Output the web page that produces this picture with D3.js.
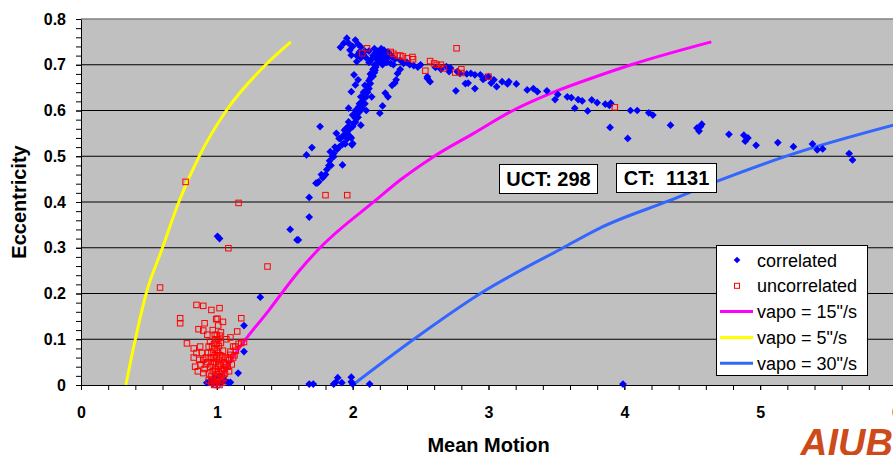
<!DOCTYPE html>
<html>
<head>
<meta charset="utf-8">
<script src="https://cdn.jsdelivr.net/npm/d3@7"></script>
<style>
  body { margin: 0; background: #fff; }
  svg { display: block; font-family: "Liberation Sans", Arial, sans-serif; }
</style>
</head>
<body>
<svg id="chart" width="893" height="455"></svg>
<script>
// mean motion (rev/day) vs eccentricity
const correlated = [
  // apex of the arc
  [1.957,0.758],[1.935,0.747],[1.91,0.738],[2.02,0.754],[1.98,0.732],[1.99,0.721],[2.03,0.707],[2.06,0.739],
  [2.04,0.745],[2.03,0.72],[2.05,0.728],[2.08,0.722],[2.10,0.715],[2.12,0.705],[2.14,0.712],[2.15,0.72],
  [2.155,0.718],[2.17,0.726],[2.18,0.703],[2.19,0.715],[2.20,0.725],[2.21,0.735],[2.22,0.72],[2.23,0.732],
  [2.24,0.71],[2.25,0.718],[2.26,0.728],[2.27,0.724],[2.28,0.703],[2.20,0.71],[2.165,0.688],[2.14,0.674],
  [2.13,0.659],[2.11,0.652],[2.105,0.645],[2.14,0.63],[2.08,0.627],[2.07,0.619],[2.045,0.608],[2.03,0.59],
  [2.02,0.583],[2.06,0.568],[2.01,0.572],[1.97,0.566],[2.01,0.678],[2.04,0.667],[2.02,0.656],[1.99,0.641],
  [2.24,0.638],[2.10,0.60],[2.20,0.594],[1.97,0.605],[2.33,0.681],[2.35,0.69],[2.32,0.667],[2.375,0.703],
  [2.40,0.705],[2.30,0.70],[2.31,0.712],[2.35,0.71],[2.42,0.70],[2.45,0.698],[2.48,0.695],[2.50,0.70],
  [2.55,0.674],[2.57,0.663],[2.61,0.694],[2.65,0.69],[2.69,0.696],[2.72,0.693],[2.77,0.685],[2.76,0.643],
  [2.18,0.712],[2.19,0.72],[2.21,0.712],[2.23,0.72],[2.25,0.705],[2.26,0.715],[2.29,0.718],[2.22,0.70],
  [2.18,0.73],[2.16,0.735],[2.12,0.73],[2.09,0.73],[2.06,0.715],[1.97,0.747],[2.0,0.74],
  [2.22,0.61],[2.26,0.63],[2.29,0.655],[2.31,0.66],
  // rising branch
  [1.76,0.565],[1.70,0.519],[1.66,0.503],[1.835,0.51],[1.86,0.499],[1.91,0.539],[1.94,0.557],[1.98,0.543],
  [1.92,0.525],[1.945,0.527],[1.995,0.525],[1.81,0.471],[1.825,0.48],[1.83,0.49],[1.86,0.506],[1.885,0.515],
  [1.935,0.528],[1.90,0.539],[1.96,0.538],[2.0,0.528],[1.99,0.54],[1.925,0.481],[1.75,0.444],[1.73,0.441],
  [1.74,0.442],[1.68,0.41],[1.68,0.367],[1.54,0.34],[1.60,0.317],[1.59,0.317],[1.32,0.192],[1.20,0.13],
  [1.20,0.073],[1.157,0.026],[1.88,0.55],[1.95,0.56],[1.97,0.575],[2.0,0.59],[2.02,0.60],[2.05,0.615],
  [2.06,0.63],[2.08,0.64],[2.09,0.655],[2.12,0.665],[2.13,0.68],[2.15,0.69],[2.16,0.70],
  [1.93,0.545],[1.96,0.55],[1.98,0.56],[2.0,0.565],[2.02,0.575],[2.04,0.585],[2.05,0.597],[2.07,0.605],
  [2.09,0.615],[2.10,0.63],[2.11,0.64],[2.12,0.648],[2.13,0.67],[2.15,0.675],[2.16,0.683],[2.17,0.695],
  [1.90,0.52],[1.87,0.52],[1.85,0.50],[1.84,0.48],[1.80,0.46],[1.78,0.453],[1.77,0.46],
  // low mean motion
  [0.926,0.005],[0.95,0.008],[0.97,0.003],[1.0,0.002],[1.03,0.004],[1.06,0.01],[1.085,0.005],[1.10,0.006],
  [1.02,0.02],[0.98,0.015],[1.005,0.325],[1.02,0.32],
  // near circular
  [1.68,0.002],[1.71,0.002],[1.86,0.002],[1.875,0.006],[1.89,0.016],[1.92,0.005],[1.99,0.017],[1.99,0.007],
  [2.0,0.002],[2.125,0.002],[3.99,0.002],
  // descending tail
  [2.71,0.685],[2.79,0.681],[2.83,0.659],[2.85,0.66],[2.87,0.681],[2.90,0.678],[2.94,0.678],[2.96,0.668],
  [3.00,0.674],[3.04,0.667],[3.06,0.652],[3.10,0.663],[3.15,0.663],[3.14,0.658],[3.205,0.658],[2.90,0.648],
  [3.285,0.645],[3.33,0.648],[3.36,0.641],[3.43,0.643],[3.51,0.635],[3.49,0.624],[3.58,0.63],[3.61,0.628],
  [3.66,0.624],[3.69,0.621],[3.76,0.623],[3.80,0.617],[3.86,0.614],[3.89,0.611],[3.635,0.605],[3.73,0.599],
  [3.895,0.563],[4.025,0.539],[4.045,0.60],[4.095,0.60],[4.18,0.595],[4.21,0.59],[4.34,0.568],[4.535,0.562],
  [4.57,0.57],[4.55,0.555],[4.56,0.565],[4.77,0.548],[4.88,0.546],[4.91,0.54],[4.89,0.533],[4.97,0.524],
  [5.13,0.53],[5.245,0.521],[5.385,0.527],[5.42,0.514],[5.46,0.516],[5.655,0.506],[5.68,0.492],[3.90,0.616],
  [2.55,0.67],[2.84,0.68],[2.98,0.672],[3.02,0.66]
];

const uncorrelated = [
  [2.07,0.725],[2.105,0.736],[2.28,0.728],[2.30,0.724],[2.33,0.72],[2.35,0.72],[2.37,0.718],[2.40,0.714],
  [2.44,0.717],[2.445,0.712],[2.57,0.708],[2.60,0.703],[2.62,0.70],[2.65,0.70],[2.67,0.692],[2.535,0.687],
  [2.755,0.683],[2.80,0.69],[2.80,0.682],[2.765,0.736],[3.00,0.674],[3.93,0.607],
  [1.80,0.415],[1.96,0.415],[1.16,0.398],[1.373,0.259],[1.085,0.299],[0.77,0.444],[0.582,0.213],
  [0.73,0.146],[0.73,0.135],[0.85,0.175],[0.90,0.173],[0.96,0.164],[1.02,0.168],[0.865,0.122],[0.90,0.119],
  [0.91,0.135],[0.995,0.144],[1.01,0.13],[1.045,0.138],[1.18,0.146],[1.15,0.117],[1.10,0.104],[0.78,0.091],
  [0.877,0.084],[0.83,0.08],[0.85,0.07],[0.83,0.06],[0.84,0.04],[0.87,0.055],[0.94,0.084],[0.99,0.10],
  [1.0,0.109],[1.02,0.108],[0.98,0.09],[0.96,0.07],[1.12,0.084],[1.18,0.092],[1.20,0.094],[1.10,0.066],
  [1.08,0.058],[1.06,0.044],[1.04,0.06],[0.90,0.026],[0.91,0.035],[0.93,0.05],[0.95,0.04],[0.97,0.03],
  [0.98,0.05],[0.99,0.02],[1.0,0.06],[1.01,0.04],[1.0,0.075],[1.02,0.025],[1.03,0.01],[1.0,0.005],
  [0.97,0.01],[0.99,0.035],[1.01,0.015],[0.96,0.02],[1.04,0.03],[1.05,0.05],[1.07,0.045],[1.09,0.055],
  [1.12,0.06],[0.92,0.06],[0.89,0.07],[1.0,0.0],[1.02,0.0],[0.98,0.0],[0.985,0.065],[1.015,0.085],
  [1.03,0.092],[0.95,0.095],[1.07,0.10],[1.10,0.073],[1.135,0.084],[1.14,0.075],[0.90,0.055],
  [0.96,0.005],[0.97,0.045],[0.975,0.06],[0.985,0.08],[0.99,0.005],[0.995,0.05],[1.0,0.03],[1.0,0.09],
  [1.005,0.015],[1.01,0.07],[1.015,0.055],[1.02,0.045],[1.025,0.065],[1.03,0.035],[1.035,0.02],[1.04,0.005],
  [1.045,0.075],[0.955,0.06],[0.965,0.085],[0.945,0.025],[0.94,0.01],[1.05,0.015],[1.055,0.035],[1.06,0.025],
  [1.065,0.06],[1.08,0.04],[1.09,0.03],[1.11,0.045],[1.13,0.065],[1.16,0.09],[0.935,0.07],[0.88,0.045],
  [0.86,0.03],[0.92,0.045],[0.985,0.11],[1.01,0.10],[0.97,0.12],[1.03,0.115],[1.005,0.145],[0.93,0.11]
];

// apogee velocity limits
const vapo15 = [[1.0,0],[1.12,0.061],[1.39,0.166],[1.61,0.251],[1.76,0.30],[2.17,0.404],[2.35,0.448],
  [2.59,0.498],[2.89,0.55],[3.18,0.60],[3.48,0.64],[3.82,0.677],[4.05,0.70],[4.64,0.75]];
const vapo5  = [[0.33,0],[0.40,0.1],[0.48,0.2],[0.60,0.3],[0.72,0.4],[0.87,0.5],[1.07,0.6],[1.36,0.7],[1.545,0.75]];
const vapo30 = [[2.0,0],[2.45,0.1],[2.94,0.2],[3.55,0.3],[3.82,0.343],[4.34,0.404],[4.69,0.446],
  [5.22,0.503],[5.98,0.568]];

const xTicks = [0, 1, 2, 3, 4, 5, 6];
const yTicks = [0, 0.1, 0.2, 0.3, 0.4, 0.5, 0.6, 0.7, 0.8];
const yTickLabels = ["0", "0.1", "0.2", "0.3", "0.4", "0.5", "0.6", "0.7", "0.8"];

const svg = d3.select('#chart');
const plotL = 81, plotR = 896, plotT = 19, plotB = 385;

const x = d3.scaleLinear().domain([0, 6]).range([plotL, plotR]);
const y = d3.scaleLinear().domain([0, 0.8]).range([plotB, plotT]);

// plot area
svg.append('rect')
  .attr('x', plotL).attr('y', plotT)
  .attr('width', plotR - plotL).attr('height', plotB - plotT)
  .attr('fill', '#c0c0c0');

// gridlines
svg.append('g').selectAll('line')
  .data(yTicks.filter(d => d > 0 && d < 0.8))
  .enter().append('line')
  .attr('x1', plotL).attr('x2', plotR)
  .attr('y1', d => y(d)).attr('y2', d => y(d))
  .attr('stroke', '#000').attr('stroke-width', 1);

svg.append('line')
  .attr('x1', plotL).attr('x2', plotR)
  .attr('y1', plotT).attr('y2', plotT)
  .attr('stroke', '#808080').attr('stroke-width', 1.5);

// axes: minor ticks first, then major with labels
svg.append('g')
  .attr('transform', `translate(${plotL},0)`)
  .call(d3.axisLeft(y).tickValues(d3.range(0, 41).map(i => i * 0.02)).tickSize(5).tickSizeOuter(0).tickFormat(''))
  .call(g => g.select('.domain').remove());

svg.append('g')
  .attr('transform', `translate(0,${plotB})`)
  .call(d3.axisBottom(x).tickValues(d3.range(0, 31).map(i => i * 0.2)).tickSize(5).tickSizeOuter(0).tickFormat(''))
  .call(g => g.select('.domain').remove());

const yAxis = svg.append('g')
  .attr('transform', `translate(${plotL},0)`)
  .call(d3.axisLeft(y).tickValues(yTicks).tickSize(5).tickSizeOuter(0).tickPadding(10)
    .tickFormat((d, i) => yTickLabels[i]));

const xAxis = svg.append('g')
  .attr('transform', `translate(0,${plotB})`)
  .call(d3.axisBottom(x).tickValues(xTicks).tickSize(5).tickSizeOuter(0).tickPadding(17)
    .tickFormat(d3.format('d')));

[yAxis, xAxis].forEach(g => {
  g.selectAll('text').attr('font-size', 16).attr('font-weight', 'bold')
    .attr('font-family', '"Liberation Sans", Arial, sans-serif').attr('fill', '#000');
  g.selectAll('line, path').attr('stroke', '#000');
});

// axis titles
svg.append('text')
  .attr('x', (plotL + plotR) / 2).attr('y', 452)
  .attr('text-anchor', 'middle')
  .attr('font-size', 20).attr('font-weight', 'bold')
  .text('Mean Motion');

svg.append('text')
  .attr('transform', `translate(26,${(plotT + plotB) / 2}) rotate(-90)`)
  .attr('text-anchor', 'middle')
  .attr('font-size', 20).attr('font-weight', 'bold')
  .text('Eccentricity');

// curves
const line = d3.line().curve(d3.curveMonotoneX).x(d => x(d[0])).y(d => y(d[1]));
const curves = [
  { data: vapo15, color: '#ff00ff' },
  { data: vapo5, color: '#ffff00' },
  { data: vapo30, color: '#3366ff' }
];
curves.forEach(c => {
  svg.append('path')
    .datum(c.data)
    .attr('d', line)
    .attr('fill', 'none')
    .attr('stroke', c.color)
    .attr('stroke-width', 3)
    .attr('stroke-linejoin', 'round');
});

// markers
const diamond = d3.symbol().type(d3.symbolSquare).size(30);

svg.append('g').selectAll('path')
  .data(correlated)
  .enter().append('path')
  .attr('d', diamond)
  .attr('transform', d => `translate(${x(d[0])},${y(d[1])}) rotate(45)`)
  .attr('fill', '#0000ff');

svg.append('g').selectAll('rect')
  .data(uncorrelated)
  .enter().append('rect')
  .attr('x', d => x(d[0]) - 2.75).attr('y', d => y(d[1]) - 2.75)
  .attr('width', 5.5).attr('height', 5.5)
  .attr('fill', 'none')
  .attr('stroke', '#ff0000').attr('stroke-width', 1);

// count boxes
const boxes = [
  { label: 'UCT: 298', x: 499, y: 164, w: 98 },
  { label: 'CT:  1131', x: 616, y: 163, w: 100 }
];
boxes.forEach(b => {
  svg.append('rect')
    .attr('x', b.x + 0.5).attr('y', b.y + 0.5)
    .attr('width', b.w).attr('height', 29)
    .attr('fill', '#fff').attr('stroke', '#000').attr('stroke-width', 1);
  svg.append('text')
    .attr('x', b.x + b.w / 2 + 0.5).attr('y', b.y + 22)
    .attr('text-anchor', 'middle')
    .attr('font-size', 20).attr('font-weight', 'bold')
    .style('white-space', 'pre')
    .text(b.label);
});

// legend
const legend = svg.append('g');
legend.append('rect')
  .attr('x', 716.5).attr('y', 245.5).attr('width', 151).attr('height', 130)
  .attr('fill', '#fff').attr('stroke', '#000').attr('stroke-width', 1);

const legendItems = [
  { label: 'correlated', type: 'diamond', color: '#0000ff' },
  { label: 'uncorrelated', type: 'square', color: '#ff0000' },
  { label: 'vapo = 15"/s', type: 'line', color: '#ff00ff' },
  { label: 'vapo = 5"/s', type: 'line', color: '#ffff00' },
  { label: 'vapo = 30"/s', type: 'line', color: '#3366ff' }
];
legendItems.forEach((item, i) => {
  const cy = 260 + i * 25.8;
  if (item.type === 'diamond') {
    legend.append('path')
      .attr('d', d3.symbol().type(d3.symbolSquare).size(22))
      .attr('transform', `translate(737,${cy}) rotate(45)`)
      .attr('fill', item.color);
  } else if (item.type === 'square') {
    legend.append('rect')
      .attr('x', 734.5).attr('y', cy - 2.5).attr('width', 5).attr('height', 5)
      .attr('fill', 'none').attr('stroke', item.color).attr('stroke-width', 1);
  } else {
    legend.append('line')
      .attr('x1', 720).attr('x2', 753).attr('y1', cy).attr('y2', cy)
      .attr('stroke', item.color).attr('stroke-width', 3);
  }
  legend.append('text')
    .attr('x', 757).attr('y', cy + 6.5)
    .attr('font-size', 18)
    .text(item.label);
});

// institute mark
svg.append('text')
  .attr('x', 800).attr('y', 456)
  .attr('font-size', 38).attr('font-weight', 'bold').attr('font-style', 'italic')
  .attr('fill', '#cd4a1a')
  .text('AIUB');
</script>
</body>
</html>
